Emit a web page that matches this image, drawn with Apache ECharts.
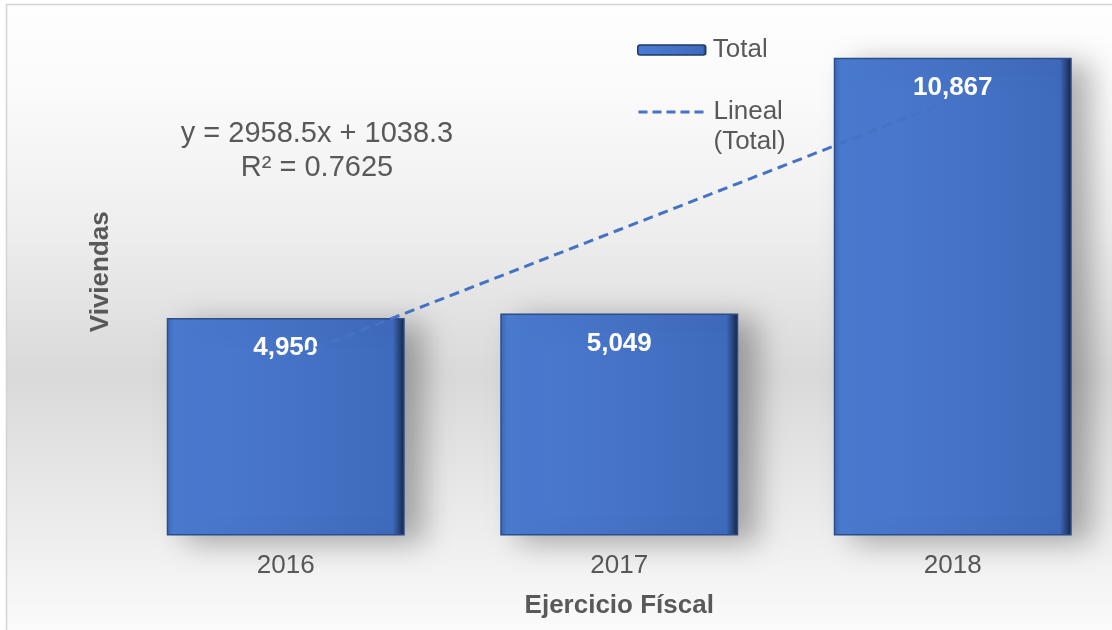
<!DOCTYPE html>
<html>
<head>
<meta charset="utf-8">
<script src="https://cdn.jsdelivr.net/npm/echarts@6/dist/echarts.min.js"></script>
<style>
html,body{margin:0;padding:0;background:#ffffff;overflow:hidden;}
#chart{width:1120px;height:630px;}
</style>
</head>
<body>
<div id="chart"></div>
<script>
var categories = ['2016', '2017', '2018'];
var totalValues = [4950, 5049, 10867];
var trendValues = [3996.8, 6955.3, 9913.8];
var equationText = 'y = 2958.5x + 1038.3';
var r2Text = 'R² = 0.7625';

var chart = echarts.init(document.getElementById('chart'));
var font = 'Liberation Sans, Arial, sans-serif';
var textColor = '#595959';

var option = {
  animation: false,
  graphic: [
    {
      type: 'rect', z: -10, silent: true,
      shape: { x: 6.5, y: 4.5, width: 1120, height: 640 },
      style: {
        stroke: '#d4d4d4', lineWidth: 1.5,
        fill: new echarts.graphic.LinearGradient(0, 0, 0, 1, [
          { offset: 0, color: '#fefefe' },
          { offset: 0.15, color: '#fafafa' },
          { offset: 0.35, color: '#eeeeee' },
          { offset: 0.58, color: '#d9d9d9' },
          { offset: 0.80, color: '#ebebeb' },
          { offset: 1, color: '#fdfdfd' }
        ])
      }
    },
    {
      type: 'text', left: 180, top: 117, z: 10,
      style: { text: equationText + '\n' + r2Text, font: '29px ' + font, fill: textColor, textAlign: 'center', lineHeight: 34, width: 274 }
    }
  ],
  grid: { left: 119, top: 8, right: 0.5, bottom: 94.5 },
  legend: [
    {
      data: ['Total'], left: 637, top: 37, padding: 0, itemWidth: 68, itemHeight: 10,
      textStyle: { fontSize: 26, fontFamily: font, color: textColor, padding: [0, 0, 0, 2] },
      itemStyle: { borderColor: '#1f3a6b', borderWidth: 1.5 }
    },
    {
      data: ['Lineal (Total)'], left: 637, top: 67, padding: 0, itemWidth: 68, itemHeight: 10,
      formatter: function () { return '\nLineal\n(Total)'; },
      itemStyle: { opacity: 0 },
      lineStyle: { width: 3, type: [9, 5], color: '#4472c4' },
      textStyle: { fontSize: 26, fontFamily: font, color: textColor, lineHeight: 30, padding: [0, 0, 0, 2] }
    }
  ],
  xAxis: {
    type: 'category', data: categories,
    axisLine: { show: false }, axisTick: { show: false },
    axisLabel: { fontSize: 26, fontFamily: font, color: textColor, margin: 17 },
    name: 'Ejercicio Físcal', nameLocation: 'middle', nameGap: 57,
    nameTextStyle: { fontSize: 26, fontWeight: 'bold', fontFamily: font, color: textColor }
  },
  yAxis: {
    type: 'value', min: 0, max: 12000,
    axisLine: { show: false }, axisTick: { show: false }, axisLabel: { show: false }, splitLine: { show: false },
    name: 'Viviendas', nameLocation: 'middle', nameGap: 5, nameRotate: 90,
    nameTextStyle: { fontSize: 26, fontWeight: 'bold', fontFamily: font, color: textColor }
  },
  series: [
    {
      name: 'Total', type: 'bar', data: totalValues, barWidth: 238, z: 2,
      itemStyle: {
        color: new echarts.graphic.LinearGradient(0, 0, 1, 0, [
          { offset: 0, color: '#3b67b6' },
          { offset: 0.03, color: '#4a7bd0' },
          { offset: 0.5, color: '#4673c6' },
          { offset: 0.95, color: '#3f6bbd' },
          { offset: 0.985, color: '#22396a' },
          { offset: 1, color: '#0f1d3a' }
        ]),
        borderColor: '#2c4d8a', borderWidth: 1.5,
        shadowColor: 'rgba(0,0,0,0.30)', shadowBlur: 28, shadowOffsetX: 18, shadowOffsetY: 6
      },
      label: {
        show: true, position: 'insideTop', distance: 17,
        fontSize: 26, fontWeight: 'bold', fontFamily: font, color: '#ffffff',
        formatter: function (p) { return p.value.toLocaleString('en-US'); }
      }
    },
    {
      name: 'Lineal (Total)', type: 'line', data: trendValues, z: 5,
      symbol: 'none', color: '#4472c4',
      lineStyle: { color: '#4472c4', width: 3, type: [10, 6] }
    }
  ]
};
chart.setOption(option);
</script>
</body>
</html>
